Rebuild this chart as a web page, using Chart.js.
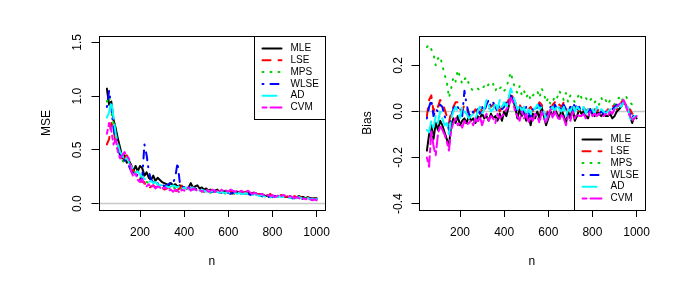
<!DOCTYPE html>
<html>
<head>
<meta charset="utf-8">
<script src="https://cdn.jsdelivr.net/npm/chart.js@4.4.0/dist/chart.umd.min.js"></script>
<style>
  body { margin: 0; background: #fff; }
  #wrap { position: relative; width: 683px; height: 288px; }
  canvas { position: absolute; top: 0; }
</style>
</head>
<body>
<div id="wrap">
  <canvas id="mseChart" width="341" height="288" style="left:0"></canvas>
  <canvas id="biasChart" width="342" height="288" style="left:341px"></canvas>
</div>
<script>
// sample sizes
const nValues = [50,60,70,80,90,100,110,120,130,140,150,160,170,180,190,200,210,220,230,240,
  250,260,270,280,290,300,310,320,330,340,350,360,370,380,390,400,410,420,430,440,
  450,460,470,480,490,500,510,520,530,540,550,560,570,580,590,600,610,620,630,640,
  650,660,670,680,690,700,710,720,730,740,750,760,770,780,790,800,810,820,830,840,
  850,860,870,880,890,900,910,920,930,940,950,960,970,980,990,1000];

const methods = ["MLE", "LSE", "MPS", "WLSE", "AD", "CVM"];
const xTicks = [200, 400, 600, 800, 1000];
const mseTicks = [0, 0.5, 1, 1.5];
const mseTickLabels = ["0.0", "0.5", "1.0", "1.5"];
const biasTicks = [-0.4, -0.2, 0, 0.2];
const biasTickLabels = ["-0.4", "-0.2", "0.0", "0.2"];

// MSE
const mseMLE = [1.07,0.92,0.95,0.78,0.7,0.6,0.52,0.42,0.45,0.38,
  0.4,0.36,0.3,0.35,0.3,0.35,0.33,0.26,0.29,0.24,
  0.22,0.26,0.21,0.24,0.22,0.2,0.19,0.18,0.17,0.19,
  0.17,0.18,0.16,0.17,0.16,0.15,0.14,0.15,0.19,0.15,
  0.16,0.17,0.14,0.15,0.13,0.14,0.12,0.13,0.12,0.12,
  0.13,0.11,0.12,0.11,0.12,0.1,0.11,0.1,0.1,0.11,
  0.1,0.11,0.09,0.11,0.1,0.09,0.1,0.1,0.09,0.09,
  0.09,0.08,0.07,0.08,0.06,0.07,0.07,0.06,0.07,0.07,
  0.07,0.06,0.06,0.07,0.05,0.06,0.06,0.07,0.06,0.06,
  0.05,0.06,0.05,0.05,0.05,0.05];
const mseLSE = [0.55,0.6,0.75,0.7,0.55,0.5,0.45,0.4,0.42,0.45,
  0.4,0.35,0.3,0.28,0.25,0.22,0.2,0.2,0.15,0.14,
  0.16,0.17,0.15,0.17,0.16,0.15,0.13,0.14,0.15,0.14,
  0.12,0.11,0.13,0.14,0.17,0.16,0.13,0.14,0.13,0.15,
  0.14,0.13,0.14,0.12,0.11,0.12,0.13,0.11,0.12,0.11,
  0.12,0.1,0.11,0.12,0.1,0.11,0.12,0.1,0.09,0.11,
  0.12,0.1,0.11,0.09,0.1,0.11,0.09,0.1,0.08,0.09,
  0.08,0.07,0.08,0.07,0.09,0.06,0.07,0.08,0.07,0.08,
  0.07,0.06,0.07,0.05,0.06,0.07,0.06,0.05,0.06,0.06,
  0.05,0.06,0.05,0.05,0.04,0.05];
const mseMPS = [0.95,1.0,0.85,0.75,0.62,0.55,0.48,0.4,0.38,0.42,
  0.36,0.33,0.32,0.28,0.26,0.25,0.22,0.21,0.2,0.19,
  0.18,0.2,0.17,0.18,0.17,0.16,0.16,0.15,0.16,0.15,
  0.15,0.14,0.15,0.14,0.13,0.14,0.13,0.14,0.13,0.14,
  0.13,0.12,0.13,0.12,0.11,0.12,0.11,0.1,0.11,0.1,
  0.11,0.1,0.11,0.1,0.09,0.1,0.1,0.09,0.1,0.09,
  0.1,0.09,0.1,0.09,0.1,0.08,0.09,0.08,0.08,0.08,
  0.07,0.08,0.07,0.07,0.06,0.07,0.06,0.07,0.06,0.06,
  0.06,0.07,0.06,0.05,0.06,0.05,0.05,0.06,0.05,0.05,
  0.05,0.05,0.04,0.05,0.04,0.04];
const mseWLSE = [0.9,1.05,0.9,0.7,0.6,0.55,0.45,0.42,0.4,0.38,
  0.35,0.3,0.28,0.25,0.27,0.22,0.24,0.55,0.45,0.3,
  0.22,0.2,0.18,0.19,0.17,0.18,0.16,0.17,0.18,0.2,
  0.19,0.25,0.38,0.2,0.16,0.15,0.14,0.16,0.14,0.13,
  0.14,0.13,0.14,0.12,0.12,0.11,0.12,0.11,0.11,0.12,
  0.1,0.11,0.1,0.11,0.1,0.1,0.09,0.1,0.11,0.1,
  0.1,0.09,0.1,0.1,0.09,0.08,0.09,0.09,0.08,0.07,
  0.07,0.06,0.05,0.06,0.07,0.06,0.07,0.06,0.06,0.07,
  0.06,0.05,0.06,0.06,0.05,0.05,0.06,0.05,0.05,0.04,
  0.05,0.04,0.05,0.04,0.04,0.04];
const mseAD = [0.8,0.85,0.95,0.8,0.65,0.55,0.48,0.45,0.4,0.43,
  0.38,0.35,0.3,0.28,0.3,0.27,0.25,0.23,0.22,0.2,
  0.21,0.19,0.2,0.18,0.17,0.17,0.18,0.16,0.15,0.16,
  0.17,0.16,0.15,0.17,0.16,0.14,0.15,0.13,0.14,0.15,
  0.13,0.14,0.12,0.13,0.12,0.11,0.12,0.11,0.12,0.1,
  0.11,0.1,0.11,0.1,0.1,0.11,0.09,0.1,0.1,0.09,
  0.1,0.09,0.09,0.1,0.08,0.09,0.08,0.09,0.08,0.07,
  0.08,0.07,0.06,0.07,0.06,0.07,0.06,0.06,0.07,0.06,
  0.06,0.05,0.06,0.05,0.06,0.05,0.05,0.06,0.05,0.05,
  0.04,0.05,0.04,0.04,0.04,0.04];
const mseCVM = [0.65,0.75,0.68,0.55,0.6,0.48,0.42,0.45,0.48,0.44,
  0.42,0.3,0.25,0.28,0.22,0.2,0.23,0.18,0.16,0.18,
  0.15,0.17,0.14,0.16,0.15,0.13,0.15,0.14,0.12,0.13,
  0.11,0.13,0.12,0.1,0.13,0.12,0.14,0.15,0.12,0.14,
  0.13,0.12,0.13,0.11,0.12,0.13,0.11,0.12,0.13,0.11,
  0.12,0.11,0.13,0.11,0.12,0.11,0.13,0.12,0.11,0.12,
  0.11,0.12,0.1,0.11,0.12,0.1,0.09,0.1,0.09,0.08,
  0.09,0.08,0.07,0.08,0.07,0.08,0.06,0.07,0.08,0.07,
  0.08,0.07,0.06,0.07,0.06,0.05,0.06,0.05,0.04,0.05,
  0.04,0.05,0.04,0.03,0.04,0.03];

// Bias
const biasMLE = [-0.17,-0.1,-0.06,-0.12,-0.05,-0.08,-0.04,-0.06,-0.09,-0.12,
  -0.15,-0.06,-0.03,-0.05,-0.02,-0.06,-0.04,-0.03,-0.05,-0.02,
  -0.04,-0.03,-0.05,-0.02,-0.03,-0.01,-0.03,-0.02,-0.04,-0.01,
  -0.03,-0.02,-0.04,-0.01,-0.04,0.0,-0.02,0.02,0.07,0.05,
  0.02,-0.03,0.01,-0.02,0.0,-0.04,-0.02,-0.06,-0.01,-0.03,
  0.0,-0.03,0.02,-0.02,-0.06,-0.03,0.0,-0.02,0.01,-0.01,
  -0.03,0.01,-0.02,-0.05,0.0,-0.03,0.02,-0.04,-0.02,0.01,
  -0.01,0.0,-0.02,-0.03,0.01,-0.01,-0.02,0.0,-0.01,-0.02,
  -0.01,-0.02,-0.02,-0.01,-0.03,-0.02,0.0,0.01,0.02,0.04,
  0.03,0.01,-0.02,-0.05,-0.02,-0.03];
const biasLSE = [-0.02,0.05,0.07,0.0,0.03,0.02,0.05,0.04,0.01,-0.02,
  -0.05,0.0,0.02,0.04,0.04,0.01,0.0,0.03,0.02,-0.02,
  0.0,-0.01,0.01,-0.01,0.02,0.0,0.01,0.02,0.01,0.02,
  0.03,0.01,0.02,0.0,0.02,0.01,0.03,0.05,0.08,0.06,
  0.04,0.02,0.03,0.01,0.02,0.0,0.01,0.02,0.0,0.01,
  0.02,0.04,0.03,0.0,-0.02,0.01,0.0,0.03,0.04,0.02,
  0.03,0.02,0.04,0.01,0.0,0.02,0.03,0.01,0.02,0.0,
  0.01,0.02,0.0,0.01,0.0,-0.01,0.01,0.0,0.01,0.0,
  0.0,-0.01,0.01,0.0,0.02,0.03,0.01,0.03,0.04,0.05,
  0.03,0.0,0.01,-0.01,0.0,-0.01];
const biasMPS = [0.28,0.29,0.27,0.25,0.2,0.23,0.24,0.2,0.16,0.13,
  0.06,0.1,0.15,0.13,0.18,0.15,0.12,0.14,0.15,0.12,
  0.1,0.09,0.1,0.1,0.09,0.1,0.11,0.1,0.12,0.11,
  0.12,0.09,0.11,0.1,0.11,0.09,0.1,0.14,0.17,0.13,
  0.1,0.08,0.11,0.07,0.09,0.06,0.08,0.05,0.07,0.08,
  0.09,0.06,0.1,0.08,0.04,0.06,0.03,0.04,0.07,0.06,
  0.09,0.07,0.05,0.08,0.04,0.07,0.06,0.04,0.05,0.08,
  0.06,0.05,0.06,0.04,0.05,0.06,0.04,0.05,0.03,0.06,
  0.04,0.05,0.03,0.05,0.04,0.03,0.05,0.06,0.04,0.06,
  0.07,0.05,0.04,0.03,0.02,0.01];
const biasWLSE = [-0.03,0.02,0.05,-0.02,0.01,0.0,0.03,0.02,-0.02,-0.04,
  -0.08,-0.02,0.01,0.03,0.02,0.0,-0.02,0.09,0.03,-0.01,
  -0.02,0.0,-0.01,0.01,-0.01,0.02,0.0,0.03,0.05,0.02,
  0.04,0.02,0.0,0.03,0.01,0.02,0.04,0.03,0.07,0.05,
  0.03,0.0,0.02,0.01,-0.01,0.02,0.0,-0.03,0.01,0.0,
  0.02,0.03,0.01,-0.01,-0.04,0.0,0.02,0.0,0.03,0.01,
  0.02,0.0,0.03,0.01,-0.02,0.02,0.0,0.04,0.01,0.02,
  0.0,0.01,-0.01,0.0,0.01,-0.01,0.0,0.01,-0.01,0.0,
  -0.01,0.0,0.01,-0.01,0.01,0.02,0.03,0.02,0.03,0.04,
  0.02,0.01,-0.01,-0.03,-0.01,-0.02];
const biasAD = [-0.08,-0.09,-0.04,-0.07,-0.02,-0.05,0.0,-0.03,-0.06,-0.05,
  -0.1,-0.03,0.0,0.02,0.0,-0.03,0.02,0.0,-0.01,-0.03,
  -0.02,-0.01,-0.03,0.0,0.02,-0.01,0.01,0.05,0.03,0.0,
  0.01,0.04,0.01,0.05,0.02,0.04,0.02,0.06,0.1,0.07,
  0.04,0.01,0.03,0.0,0.02,-0.02,0.01,-0.01,0.02,0.01,
  0.03,0.01,0.02,0.0,-0.04,-0.01,0.01,0.02,0.0,0.03,
  0.01,0.0,0.02,-0.02,0.01,0.0,0.03,0.0,0.02,0.01,
  0.0,0.02,-0.01,0.01,0.0,0.01,-0.01,0.02,0.0,0.01,
  0.0,-0.01,0.0,0.01,0.0,0.01,0.02,0.03,0.02,0.04,
  0.03,0.02,-0.03,-0.04,-0.02,-0.02];
const biasCVM = [-0.2,-0.24,-0.08,-0.15,-0.19,-0.1,-0.06,-0.08,-0.1,-0.13,
  -0.17,-0.08,-0.05,-0.03,-0.06,-0.05,-0.07,-0.04,-0.06,-0.05,
  -0.04,-0.06,-0.03,-0.05,-0.02,-0.06,-0.03,-0.01,-0.04,-0.02,
  -0.03,-0.05,-0.01,-0.03,-0.02,-0.01,0.01,0.02,0.06,0.04,
  0.0,-0.02,-0.04,0.0,-0.03,-0.01,-0.05,-0.02,-0.04,-0.01,
  -0.02,-0.05,0.0,-0.03,-0.05,-0.02,0.01,-0.03,0.0,-0.02,
  -0.04,-0.01,-0.03,-0.06,-0.02,-0.04,0.0,-0.03,-0.01,-0.02,
  -0.02,-0.01,-0.03,-0.02,0.0,-0.02,-0.01,-0.02,-0.01,-0.02,
  -0.02,-0.01,-0.02,0.0,-0.01,0.01,0.02,0.03,0.04,0.05,
  0.03,0.0,-0.02,-0.04,-0.03,-0.02];

// R-like line styles (lty 1..6 at lwd 2)
const lineColors = ["#000000", "#ff0000", "#00cd00", "#0000ff", "#00ffff", "#ff00ff"];
const lineDashes = [[], [8, 8], [1, 7], [1, 7, 8, 6], [14, 6], [4, 4, 12, 4]];

const FONT = '"Liberation Sans", Arial, sans-serif';

function makeDatasets(series) {
  return series.map((vals, i) => ({
    label: methods[i],
    data: nValues.map((n, j) => ({ x: n, y: vals[j] })),
    borderColor: lineColors[i],
    borderWidth: 2,
    borderDash: lineDashes[i],
    borderCapStyle: "round",
    borderJoinStyle: "round",
    pointRadius: 0,
    tension: 0,
    fill: false,
    order: 6 - i
  }));
}

// grey reference line at 0 and the plot box
const rFrame = {
  id: "rFrame",
  beforeDatasetsDraw(chart) {
    const { ctx, chartArea, scales } = chart;
    const y = scales.y.getPixelForValue(0);
    ctx.save();
    ctx.strokeStyle = "#c8c8c8";
    ctx.lineWidth = 1.5;
    ctx.beginPath();
    ctx.moveTo(chartArea.left, y);
    ctx.lineTo(chartArea.right, y);
    ctx.stroke();
    ctx.restore();
  },
  afterDatasetsDraw(chart, args, opts) {
    const { ctx, chartArea } = chart;
    ctx.save();
    ctx.strokeStyle = "#000";
    ctx.lineWidth = 1;
    const l = Math.round(chartArea.left) + 0.5, t = Math.round(chartArea.top) + 0.5;
    const r = Math.round(chartArea.right) + 0.5, b = Math.round(chartArea.bottom) + 0.5;
    ctx.strokeRect(l, t, r - l, b - t);

    // legend box, R style
    const w = 71, h = 83;
    const left = Math.round(chartArea.right - w) + 0.5;
    const top = opts.corner === "top" ? t : Math.round(chartArea.bottom - h) + 0.5;
    ctx.fillStyle = "#fff";
    ctx.fillRect(left, top, w, h);
    ctx.strokeRect(left, top, r - left, h);
    ctx.font = "10px " + FONT;
    ctx.textBaseline = "middle";
    chart.data.datasets.forEach((ds, i) => {
      const yy = top + 12 + i * 11.8;
      ctx.strokeStyle = ds.borderColor;
      ctx.lineWidth = 2;
      ctx.lineCap = "round";
      ctx.setLineDash(ds.borderDash);
      ctx.beginPath();
      ctx.moveTo(left + 8, yy);
      ctx.lineTo(left + 27, yy);
      ctx.stroke();
      ctx.setLineDash([]);
      ctx.fillStyle = "#000";
      ctx.fillText(ds.label, left + 36, yy);
    });
    ctx.restore();
  }
};

function makeChart(id, series, yMin, yMax, yTicks, yLabels, yTitle, yWidth, titlePad, tickPad, padRight, corner) {
  const font = { family: FONT, size: 12 };
  return new Chart(document.getElementById(id), {
    type: "line",
    data: { datasets: makeDatasets(series) },
    plugins: [rFrame],
    options: {
      responsive: false,
      animation: false,
      events: [],
      layout: { padding: { top: 36, right: padRight, left: 0, bottom: 0 } },
      plugins: { legend: { display: false }, tooltip: { enabled: false }, rFrame: { corner } },
      scales: {
        x: {
          type: "linear", min: 12, max: 1038,
          afterBuildTicks: s => { s.ticks = xTicks.map(v => ({ value: v })); },
          afterFit: s => { s.height = 78; },
          grid: { drawOnChartArea: false, tickLength: 7, color: "#000" },
          border: { display: false },
          ticks: { color: "#000", font, padding: 8, maxRotation: 0, autoSkip: false, callback: v => String(v) },
          title: { display: true, text: "n", color: "#000", font, padding: { top: 0, bottom: 19 } }
        },
        y: {
          type: "linear", min: yMin, max: yMax,
          afterBuildTicks: s => { s.ticks = yTicks.map(v => ({ value: v })); },
          afterFit: s => { s.width = yWidth; },
          grid: { drawOnChartArea: false, tickLength: 7, color: "#000" },
          border: { display: false },
          ticks: { color: "#000", font, padding: tickPad, minRotation: 90, maxRotation: 90,
                   crossAlign: "center", autoSkip: false, callback: (v, i) => yLabels[i] },
          title: { display: true, text: yTitle, color: "#000", font, padding: { top: titlePad, bottom: 0 } }
        }
      }
    }
  });
}

makeChart("mseChart", [mseMLE, mseLSE, mseMPS, mseWLSE, mseAD, mseCVM],
  -0.06, 1.56, mseTicks, mseTickLabels, "MSE", 98.5, 39, 5, 16, "top");
makeChart("biasChart", [biasMLE, biasLSE, biasMPS, biasWLSE, biasAD, biasCVM],
  -0.428, 0.328, biasTicks, biasTickLabels, "Bias", 77.5, 19, 2, 38, "bottom");
</script>
</body>
</html>
